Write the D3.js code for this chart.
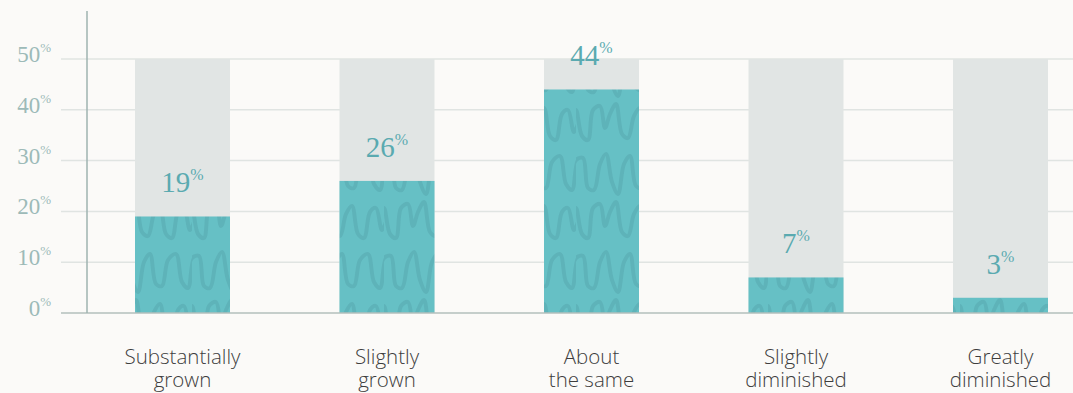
<!DOCTYPE html>
<html>
<head>
<meta charset="utf-8">
<script src="https://cdn.jsdelivr.net/npm/d3@7"></script>
<style>
  html, body { margin: 0; padding: 0; background: #fbfaf8; }
  svg { display: block; }
</style>
</head>
<body>
<svg id="chart" width="1073" height="393"></svg>
<script>
// Survey responses: how has it changed?
const categories = [
  ["Substantially", "grown"],
  ["Slightly", "grown"],
  ["About", "the same"],
  ["Slightly", "diminished"],
  ["Greatly", "diminished"]
];
const values = [19, 26, 44, 7, 3];
const maxValue = 50;
const tickValues = [0, 10, 20, 30, 40, 50];

const W = 1073, H = 393;
const svg = d3.select("#chart");

const pad = 109.5 / 204.5;
const x = d3.scaleBand()
  .domain(d3.range(categories.length))
  .range([25.5, 25.5 + 204.5 * (categories.length + pad)])
  .paddingInner(pad)
  .paddingOuter(pad);

const y = d3.scaleLinear().domain([0, maxValue]).range([313, 59]);

// squiggle texture for the filled bars
const defs = svg.append("defs");
const pat = defs.append("pattern")
  .attr("id", "squiggle")
  .attr("patternUnits", "userSpaceOnUse")
  .attr("width", 96).attr("height", 98);
pat.append("rect").attr("width", 96).attr("height", 98).attr("fill", "#66c0c5");
const waveLine = d3.line().curve(d3.curveCatmullRom.alpha(0.5));
const rowA = [[-6,40],[0,12],[6,38],[12,42],[17,12],[24,8],[29,30],[34,16],[40,6],[46,36],[52,40],[58,18],[64,10],[70,38],[76,42],[82,16],[88,12],[94,34],[102,12]];
const rowB = [[-6,88],[0,62],[7,60],[12,90],[18,92],[24,66],[30,56],[36,84],[42,96],[48,66],[54,58],[60,88],[66,90],[72,64],[80,58],[86,86],[92,92],[98,62],[104,60]];
[rowA, rowB].forEach(r => {
  pat.append("path").attr("d", waveLine(r))
    .attr("fill", "none").attr("stroke", "#5aaeb5")
    .attr("stroke-width", 4).attr("stroke-linecap", "round").attr("opacity", 0.75);
});

// gridlines
svg.append("g").selectAll("line").data(tickValues.filter(d => d > 0)).join("line")
  .attr("x1", 61).attr("x2", W)
  .attr("y1", d => y(d)).attr("y2", d => y(d))
  .attr("stroke", "#e0e4e2").attr("stroke-width", 1.5);

// bar backgrounds (full scale)
svg.append("g").selectAll("rect").data(values).join("rect")
  .attr("x", (d, i) => x(i)).attr("width", x.bandwidth())
  .attr("y", y(maxValue)).attr("height", y(0) - y(maxValue))
  .attr("fill", "#e1e5e4");

// value bars
svg.append("g").selectAll("rect").data(values).join("rect")
  .attr("x", (d, i) => x(i)).attr("width", x.bandwidth())
  .attr("y", d => y(d)).attr("height", d => y(0) - y(d))
  .attr("fill", "url(#squiggle)");

// baseline and vertical axis
svg.append("line").attr("x1", 61).attr("x2", W).attr("y1", y(0)).attr("y2", y(0))
  .attr("stroke", "#b3bfbd").attr("stroke-width", 1.5);
svg.append("line").attr("x1", 87).attr("x2", 87).attr("y1", 11).attr("y2", y(0))
  .attr("stroke", "#9fb3b1").attr("stroke-width", 1.5);

// y tick labels
const serif = "'Liberation Serif', 'DejaVu Serif', serif";
const ticks = svg.append("g").selectAll("text").data(tickValues).join("text")
  .attr("x", 51).attr("y", d => y(d) + 3)
  .attr("text-anchor", "end")
  .attr("font-family", serif).attr("font-size", 23)
  .attr("fill", "#9dbab8");
ticks.append("tspan").text(d => d);
ticks.append("tspan").text("%").attr("font-size", 13).attr("dy", -10);

// value labels
const vl = svg.append("g").selectAll("text").data(values).join("text")
  .attr("x", (d, i) => x(i) + x.bandwidth() / 2)
  .attr("y", d => y(d) - 24)
  .attr("text-anchor", "middle")
  .attr("font-family", serif).attr("font-size", 29)
  .attr("fill", "#5aaab0");
vl.append("tspan").text(d => d);
vl.append("tspan").text("%").attr("font-size", 16).attr("dy", -12);

// category labels
const cl = svg.append("g").selectAll("text").data(categories).join("text")
  .attr("text-anchor", "middle")
  .attr("font-family", "'Open Sans', sans-serif").attr("font-weight", 300)
  .attr("font-size", 20.5).attr("fill", "#3d3d3d");
cl.each(function(d, i) {
  const t = d3.select(this);
  d.forEach((line, j) => {
    t.append("tspan").attr("x", x(i) + x.bandwidth() / 2).attr("y", 364 + j * 23).text(line);
  });
});
</script>
</body>
</html>
